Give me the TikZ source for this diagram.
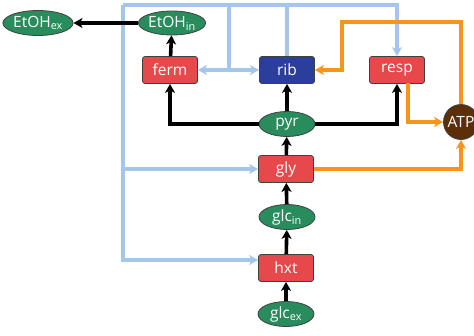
\documentclass[tikz,border=0pt]{standalone}
\usepackage{fontspec}
\setmainfont{Open Sans}
\usetikzlibrary{arrows.meta,shapes.geometric}
\definecolor{enzred}{RGB}{230,72,76}
\definecolor{ribblue}{RGB}{44,62,156}
\definecolor{metgreen}{RGB}{40,140,92}
\definecolor{atpbrown}{RGB}{92,47,8}
\definecolor{ctrlblue}{RGB}{164,198,234}
\definecolor{energy}{RGB}{247,148,30}
\begin{document}
\begin{tikzpicture}[x=1pt,y=-1pt,
  lbl/.style={text=white,font=\fontsize{15.5}{15.5}\selectfont},
  enz/.style={lbl,draw=black!75,line width=0.8pt,rounded corners=2.5pt,fill=enzred,
    minimum width=55pt,minimum height=27pt,inner sep=0pt},
  met/.style={lbl,ellipse,draw=black!75,line width=0.8pt,fill=metgreen,
    minimum width=56pt,minimum height=25pt,inner sep=0pt},
  tip/.style={-{Stealth[length=9pt,width=10pt,inset=2.5pt]}},
  flux/.style={line width=3.6pt,tip},
  ctrl/.style={draw=ctrlblue,line width=3.4pt},
  ctrlarr/.style={ctrl,tip},
  nrg/.style={draw=energy,line width=3.4pt,tip}]
\useasboundingbox (0,0) rectangle (474,335);

% enzymes
\node[enz] (ferm) at (170,70) {ferm};
\node[enz,fill=ribblue] (rib) at (287,70) {rib};
\node[enz] (resp) at (397,70) {resp};
\node[enz] (gly) at (286,169) {gly};
\node[enz] (hxt) at (286,268) {hxt};

% metabolites
\node[met,minimum width=60pt,minimum height=25pt] (etohex) at (38,23) {EtOH\textsubscript{ex}};
\node[met,minimum width=58pt,minimum height=24pt] (etohin) at (172,23) {EtOH\textsubscript{in}};
\node[met] (pyr) at (287,124) {pyr};
\node[met] (glcin) at (287,217) {glc\textsubscript{in}};
\node[met] (glcex) at (286,314) {glc\textsubscript{ex}};
\node[lbl,circle,draw=black!75,line width=0.8pt,fill=atpbrown,minimum size=35pt,inner sep=0pt] (atp) at (461,122) {ATP};

% control (protein allocation) lines from rib
\coordinate (tl) at (123,5);
\coordinate (tr) at (397,5);
\coordinate (tm) at (229,5);
\coordinate (fm) at (229,70);
\coordinate (hx) at ([yshift=8pt]hxt.west);
\draw[ctrl] (rib.north) -- (rib.north |- tl);
\draw[ctrlarr] (tl) -- (tr) -- (resp.north);
\draw[ctrl] (tm) -- (fm);
\draw[ctrlarr] (fm) -- (ferm.east);
\draw[ctrlarr] (fm) -- (rib.west);
\draw[ctrlarr] (tl) |- (gly.west);
\draw[ctrlarr] (tl) |- (hx);

% energy
\coordinate (otop) at (342,22);
\coordinate (rs) at (408,83);
\draw[nrg] (atp.north) |- (otop) |- (rib.east);
\draw[nrg] (rs) |- (atp.west);
\draw[nrg] (gly.east) -| (atp.south);

% metabolic fluxes
\draw[flux] (glcex) -- (hxt);
\draw[flux] (hxt) -- (glcin);
\draw[flux] (glcin) -- (gly);
\draw[flux] (gly) -- (pyr);
\draw[flux] (pyr) -- (rib);
\draw[flux] (pyr.west) -| (ferm.south);
\draw[flux] (pyr.east) -| (resp.south);
\draw[flux] (ferm) -- (etohin);
\draw[flux] (etohin) -- (etohex);
\end{tikzpicture}
\end{document}
